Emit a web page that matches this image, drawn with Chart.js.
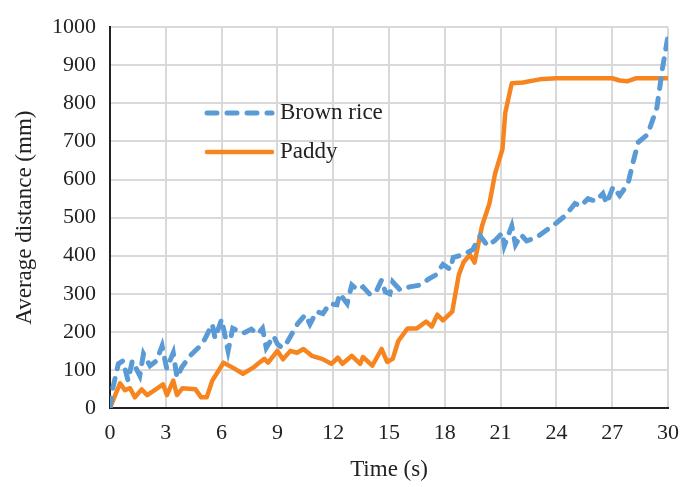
<!DOCTYPE html>
<html>
<head>
<meta charset="utf-8">
<script src="https://cdn.jsdelivr.net/npm/chart.js@4/dist/chart.umd.min.js"></script>
<style>
  html, body { margin: 0; padding: 0; background: #fff; }
  #wrap { width: 697px; height: 487px; }
</style>
</head>
<body>
<div id="wrap"><canvas id="myChart" width="697" height="487"></canvas></div>
<script>
// values
var riceTime = [0, 0.16, 0.45, 0.7, 0.97, 1.2, 1.6, 1.8, 2.15, 2.5, 2.8, 3.05, 3.4, 3.6, 3.85,
  4.3, 4.85, 5.1, 5.5, 5.65, 6.0, 6.35, 6.6, 7.15, 7.6, 7.95, 8.2, 8.4, 8.8, 9.0,
  9.25, 9.5, 10.1, 10.5, 10.75, 11.1, 11.45, 11.8, 12.2, 12.35, 12.75, 13.0, 13.3, 13.6, 14.0,
  14.35, 14.6, 14.8, 15.05, 15.2, 15.6, 16.1, 16.7, 17.1, 17.5, 17.9, 18.3, 18.45, 18.8, 19.2,
  19.5, 19.9, 20.3, 20.7, 21.1, 21.2, 21.6, 21.8, 22.1, 22.4, 22.9, 23.5, 24.0, 24.5, 25.0,
  25.3, 25.7, 26.1, 26.5, 26.7, 27.05, 27.4, 27.85, 28.1, 28.4, 28.9, 29.4, 29.7, 30];
var riceDist = [0, 54, 116, 124, 72, 124, 85, 142, 111, 124, 163, 103, 145, 80, 106,
  137, 163, 181, 220, 183, 233, 150, 209, 196, 207, 194, 209, 158, 189, 168,
  158, 171, 222, 245, 220, 253, 248, 274, 271, 300, 274, 323, 310, 318, 297,
  310, 336, 305, 300, 331, 310, 318, 323, 338, 349, 377, 364, 395, 400, 408,
  416, 452, 426, 440, 460, 426, 478, 429, 455, 439, 447, 468, 486, 506, 537,
  530, 550, 543, 563, 537, 581, 558, 589, 641, 698, 718, 788, 891, 977];

var paddyTime = [0, 0.54, 0.8, 1.08, 1.34, 1.7, 2.0, 2.4, 2.85, 3.06, 3.4, 3.6, 3.9, 4.6, 4.9,
  5.2, 5.5, 6.1, 6.6, 7.15, 7.7, 7.95, 8.3, 8.5, 9.0, 9.3, 9.7, 10.05, 10.4, 10.85,
  11.4, 11.9, 12.25, 12.5, 13.0, 13.45, 13.6, 14.1, 14.6, 14.9, 15.2, 15.5, 16.0, 16.5, 17.0,
  17.3, 17.6, 17.9, 18.4, 18.75, 19.0, 19.35, 19.6, 20.0, 20.4, 20.7, 21.1, 21.25, 21.6, 22.2,
  23.1, 24.0, 25.5, 27.0, 27.4, 27.8, 28.3, 30];
var paddyDist = [0, 65, 47, 52, 28, 49, 34, 47, 62, 34, 72, 34, 52, 49, 28,
  28, 72, 119, 106, 90, 106, 116, 129, 119, 150, 128, 150, 145, 155, 137,
  129, 116, 132, 116, 137, 116, 134, 111, 155, 121, 129, 176, 209, 209, 227,
  214, 245, 230, 253, 349, 382, 403, 382, 478, 537, 615, 680, 775, 853, 855,
  863, 866, 866, 866, 860, 858, 866, 866];

var seriesNames = ["Brown rice", "Paddy"];
var xTicks = [0, 3, 6, 9, 12, 15, 18, 21, 24, 27, 30];
var yTicks = [0, 100, 200, 300, 400, 500, 600, 700, 800, 900, 1000];

var BLUE = "#5B9BD5";
var ORANGE = "#F7851F";
var FONT = "'Liberation Serif', 'Times New Roman', serif";

function pairs(xs, ys) {
  return xs.map(function (x, i) { return { x: x, y: ys[i] }; });
}

// legend drawn inside plot, like the original
var innerLegend = {
  id: "innerLegend",
  afterDatasetsDraw: function (chart) {
    var ctx = chart.ctx;
    var rows = [
      { y: 113, ds: chart.data.datasets[0] },
      { y: 152, ds: chart.data.datasets[1] }
    ];
    ctx.save();
    rows.forEach(function (r) {
      ctx.beginPath();
      ctx.strokeStyle = r.ds.borderColor;
      ctx.lineWidth = r.ds.borderWidth;
      ctx.lineCap = r.ds.borderCapStyle || "butt";
      ctx.setLineDash(r.ds.borderDash || []);
      ctx.moveTo(207, r.y);
      ctx.lineTo(272, r.y);
      ctx.stroke();
      ctx.setLineDash([]);
      ctx.fillStyle = "#222";
      ctx.font = "23px " + FONT;
      ctx.textBaseline = "middle";
      ctx.fillText(r.ds.label, 280, r.y);
    });
    ctx.restore();
  }
};

const CHART = document.getElementById("myChart");
let myChart = new Chart(CHART, {
  type: "line",
  data: {
    datasets: [{
      label: seriesNames[0],
      data: pairs(riceTime, riceDist),
      borderColor: BLUE,
      borderWidth: 5,
      borderDash: [10, 10],
      borderCapStyle: "round",
      pointRadius: 0,
      tension: 0
    }, {
      label: seriesNames[1],
      data: pairs(paddyTime, paddyDist),
      borderColor: ORANGE,
      borderWidth: 4.5,
      borderCapStyle: "round",
      borderJoinStyle: "round",
      pointRadius: 0,
      tension: 0
    }]
  },
  options: {
    responsive: false,
    animation: false,
    layout: { padding: { top: 21, right: 29, left: 0, bottom: 0 } },
    plugins: { legend: { display: false }, tooltip: { enabled: false } },
    scales: {
      x: {
        type: "linear",
        min: 0, max: 30,
        afterBuildTicks: function (s) { s.ticks = xTicks.map(function (v) { return { value: v }; }); },
        afterFit: function (s) { s.height = 79; },
        grid: { color: "#d9d9d9", lineWidth: 2, drawTicks: false },
        border: { color: "#222", width: 2 },
        ticks: { color: "#222", font: { family: FONT, size: 22 }, padding: 12, maxRotation: 0,
          callback: function (v) { return String(v); } },
        title: { display: true, text: "Time (s)", color: "#222", font: { family: FONT, size: 23 }, padding: { top: 0, bottom: 3 } }
      },
      y: {
        min: 0, max: 1000,
        afterBuildTicks: function (s) { s.ticks = yTicks.map(function (v) { return { value: v }; }); },
        afterFit: function (s) { s.width = 110; },
        grid: { color: "#d9d9d9", lineWidth: 2, drawTicks: false },
        border: { color: "#222", width: 2 },
        ticks: { color: "#222", font: { family: FONT, size: 22 }, padding: 14,
          callback: function (v) { return String(v); } },
        title: { display: true, text: "Average distance (mm)", color: "#222", font: { family: FONT, size: 23 }, padding: { top: 11, bottom: 0 } }
      }
    }
  },
  plugins: [innerLegend]
});
</script>
</body>
</html>
